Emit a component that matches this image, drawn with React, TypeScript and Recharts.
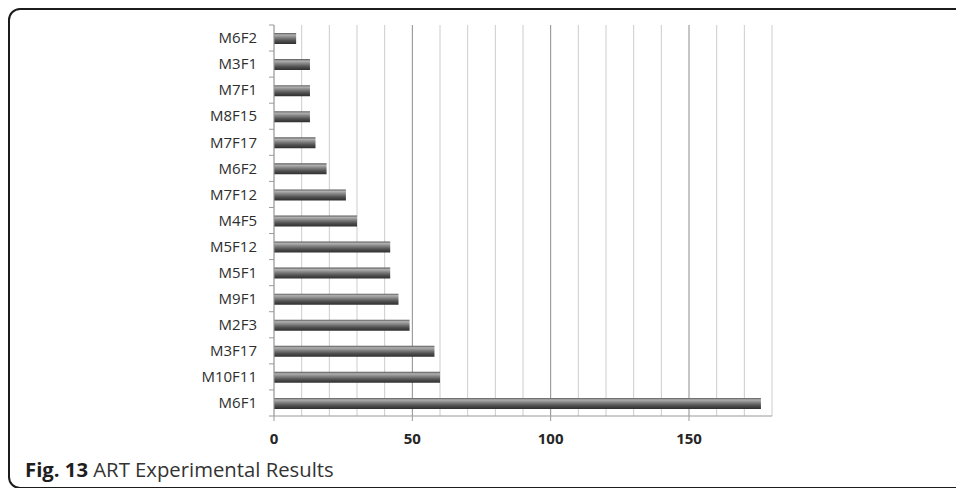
import { BarChart, Bar, XAxis, YAxis, CartesianGrid } from "recharts";

// categories top to bottom
const CATEGORIES = [
  "M6F2",
  "M3F1",
  "M7F1",
  "M8F15",
  "M7F17",
  "M6F2",
  "M7F12",
  "M4F5",
  "M5F12",
  "M5F1",
  "M9F1",
  "M2F3",
  "M3F17",
  "M10F11",
  "M6F1",
];
const VALUES = [8, 13, 13, 13, 15, 19, 26, 30, 42, 42, 45, 49, 58, 60, 176];

// grid every 10, labels every 50
const X_TICKS = [0, 10, 20, 30, 40, 50, 60, 70, 80, 90, 100, 110, 120, 130, 140, 150, 160, 170, 180];
const X_LABELS = [0, 50, 100, 150];

// duplicate labels (M6F2 twice) -> key rows by index
const rows = CATEGORIES.map((name, i) => ({ idx: i, name, value: VALUES[i] }));

const FONT = "'Open Sans', 'DejaVu Sans', sans-serif";
const AXIS = "#9a9a9a";

const CHART_H = 460;
const MARGIN = { top: 25, right: 184, bottom: 14, left: 0 };
const X_AXIS_H = 30;
const Y_AXIS_W = 274;
const BAND = (CHART_H - MARGIN.top - MARGIN.bottom - X_AXIS_H) / CATEGORIES.length;

// label + short tick marks at the category boundaries
function CategoryTick(props: any) {
  const { x, y, payload, index } = props;
  const ax = MARGIN.left + Y_AXIS_W;
  return (
    <g>
      <line x1={ax - 5} x2={ax} y1={y - BAND / 2} y2={y - BAND / 2} stroke={AXIS} />
      {index === CATEGORIES.length - 1 && (
        <line x1={ax - 5} x2={ax} y1={y + BAND / 2} y2={y + BAND / 2} stroke={AXIS} />
      )}
      <text
        x={x}
        y={y}
        dy="0.35em"
        textAnchor="end"
        fontSize={15}
        fill="#2e2e2e"
        fontFamily={FONT}
      >
        {CATEGORIES[payload.value]}
      </text>
    </g>
  );
}

function ValueTick(props: any) {
  const { x, y, payload } = props;
  if (!X_LABELS.includes(payload.value)) return <g />;
  return (
    <g>
      <line x1={x} x2={x} y1={y} y2={y + 5} stroke={AXIS} />
      <text
        x={x}
        y={y + 17}
        dy="0.71em"
        textAnchor="middle"
        fontSize={15}
        fontWeight={700}
        fill="#262626"
        fontFamily={FONT}
      >
        {payload.value}
      </text>
    </g>
  );
}

// minor grid light, every 50 darker
function GridLine(props: any) {
  const { x1, x2, y1, y2, index } = props;
  const v = X_TICKS[index];
  const major = v !== undefined && v % 50 === 0 && v > 0 && v < 180;
  return <line x1={x1} x2={x2} y1={y1} y2={y2} stroke={major ? "#8c8c8c" : "#cccccc"} />;
}

export default function App() {
  return (
    <div
      style={{
        position: "fixed",
        left: 0,
        top: 0,
        width: 956,
        height: 488,
        overflow: "hidden",
        background: "#fff",
        fontFamily: FONT,
      }}
    >
      <div
        style={{
          position: "absolute",
          left: 8,
          top: 8,
          width: 1000,
          height: 477,
          border: "2px solid #1c1c1c",
          borderRadius: 12,
        }}
      />
      <div style={{ position: "absolute", left: 0, top: 0 }}>
        <BarChart
          width={956}
          height={CHART_H}
          data={rows}
          layout="vertical"
          margin={MARGIN}
          barCategoryGap={0}
        >
          <defs>
            <linearGradient id="barFill" x1="0" y1="0" x2="0" y2="1">
              <stop offset="0%" stopColor="#5a5a5a" />
              <stop offset="18%" stopColor="#b0b0b0" />
              <stop offset="40%" stopColor="#858585" />
              <stop offset="70%" stopColor="#505050" />
              <stop offset="100%" stopColor="#2e2e2e" />
            </linearGradient>
          </defs>
          <CartesianGrid horizontal={false} vertical={(p: any) => <GridLine {...p} />} />
          <XAxis
            type="number"
            domain={[0, 180]}
            ticks={X_TICKS}
            interval={0}
            height={X_AXIS_H}
            tickSize={0}
            tickMargin={0}
            axisLine={{ stroke: AXIS }}
            tickLine={false}
            tick={<ValueTick />}
          />
          <YAxis
            type="category"
            dataKey="idx"
            width={Y_AXIS_W}
            tickLine={false}
            tickSize={0}
            tickMargin={17}
            interval={0}
            axisLine={{ stroke: AXIS }}
            tick={<CategoryTick />}
          />
          <Bar dataKey="value" fill="url(#barFill)" barSize={11} isAnimationActive={false} />
        </BarChart>
      </div>
      <div
        style={{
          position: "absolute",
          left: 25,
          top: 456,
          fontSize: 20.3,
          lineHeight: "26px",
          color: "#333",
          whiteSpace: "nowrap",
        }}
      >
        <span style={{ fontWeight: 700, color: "#1e1e1e" }}>Fig. 13</span> ART Experimental Results
      </div>
    </div>
  );
}
